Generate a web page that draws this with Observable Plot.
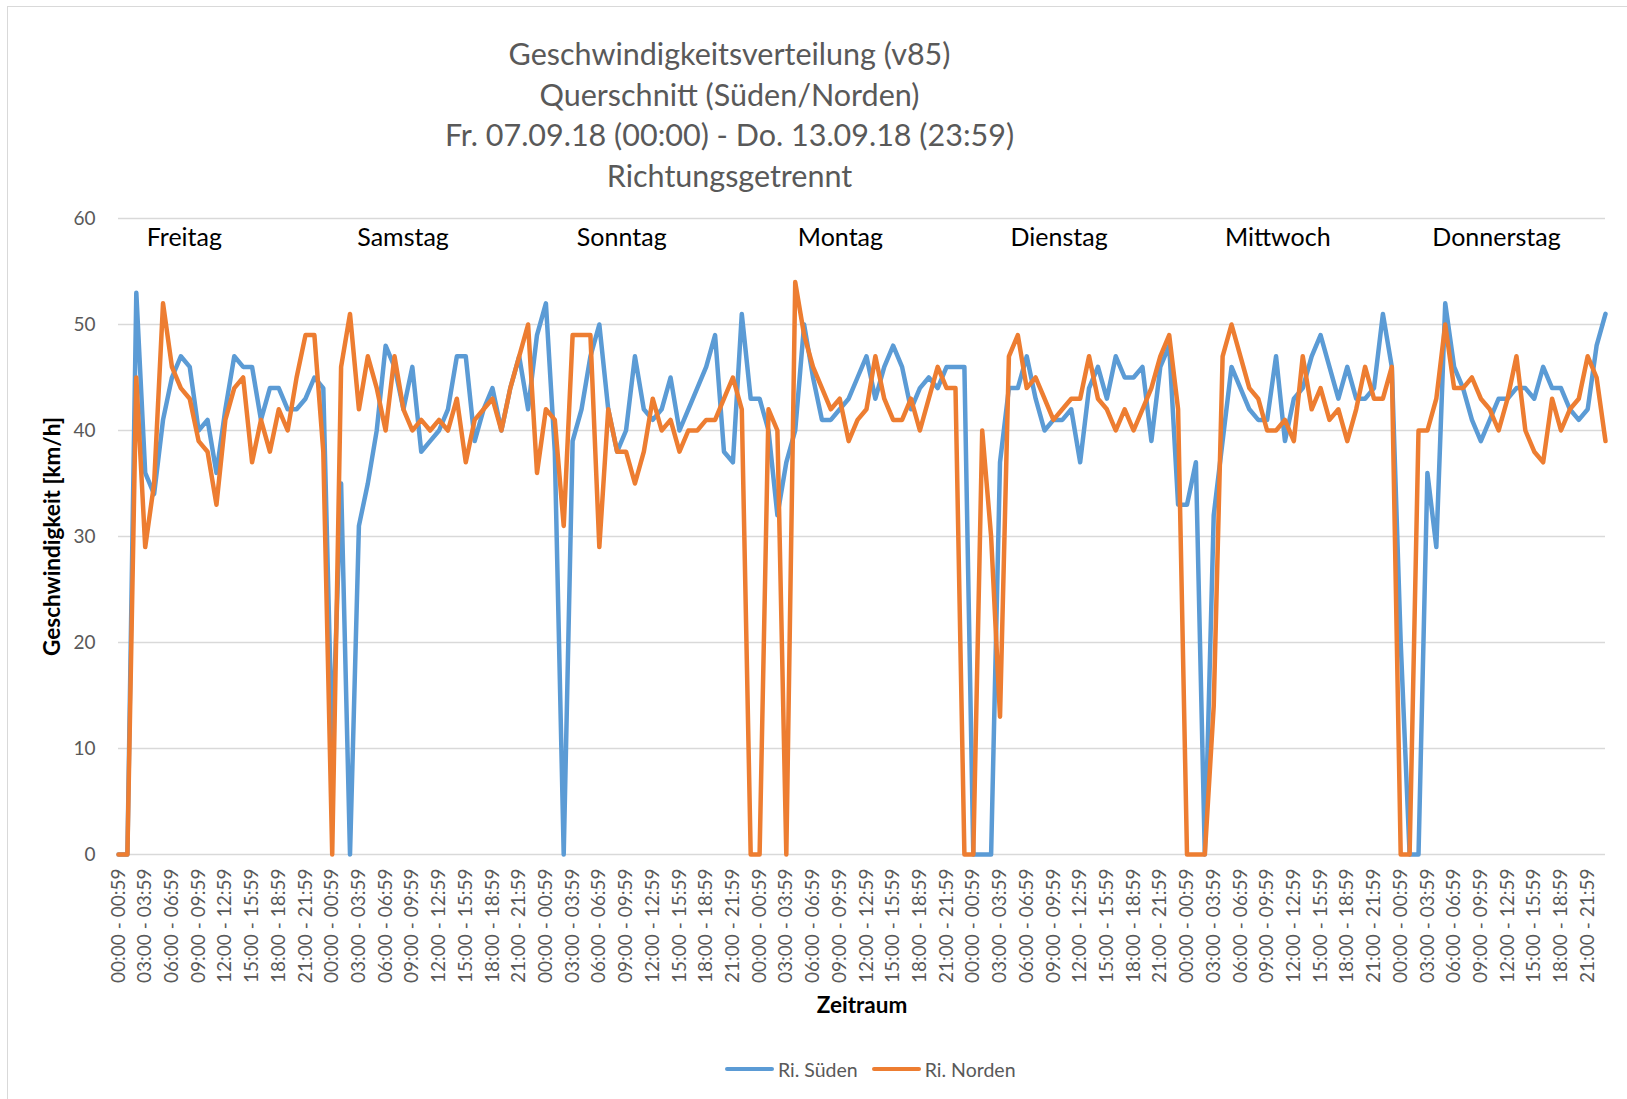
<!DOCTYPE html>
<html>
<head>
<meta charset="utf-8">
<script src="https://cdn.jsdelivr.net/npm/d3@7"></script>
<script src="https://cdn.jsdelivr.net/npm/@observablehq/plot@0.6"></script>
<style>
  html, body { margin: 0; padding: 0; background: #fff; }
  #wrap { position: relative; width: 1627px; height: 1099px; overflow: hidden; font-family: Lato, "Open Sans", sans-serif; }
  #border { position: absolute; left: 7px; top: 6px; right: -2px; bottom: -2px; border-top: 1.5px solid #d9d9d9; border-left: 1.5px solid #d9d9d9; }
  #title { position: absolute; left: 0; top: 33px; width: 1459px; text-align: center; color: #595959; font-size: 30.5px; line-height: 40.7px; }
  #chart { position: absolute; left: 0; top: 200px; }
  #legend { position: absolute; left: 725px; top: 1056px; display: flex; align-items: center; font-size: 19.5px; color: #595959; height: 26px; }
  .sw { width: 49px; height: 4.5px; border-radius: 2px; margin-right: 4px; }
</style>
</head>
<body>
<div id="wrap">
  <div id="border"></div>
  <div id="title"></div>
  <div id="chart"></div>
  <div id="legend"></div>
</div>
<script>
// ---- data ----
const titleLines = [
  "Geschwindigkeitsverteilung (v85)",
  "Querschnitt (Süden/Norden)",
  "Fr. 07.09.18 (00:00) - Do. 13.09.18 (23:59)",
  "Richtungsgetrennt"
];
const days = ["Freitag", "Samstag", "Sonntag", "Montag", "Dienstag", "Mittwoch", "Donnerstag"];
const hourLabels = ["00:00 - 00:59", "03:00 - 03:59", "06:00 - 06:59", "09:00 - 09:59",
                    "12:00 - 12:59", "15:00 - 15:59", "18:00 - 18:59", "21:00 - 21:59"];
const yTicks = [0, 10, 20, 30, 40, 50, 60];
const seriesNames = ["Ri. Süden", "Ri. Norden"];
const seriesColors = ["#5b9bd5", "#ed7d31"];

const sueden = [
  0,0,53,36,34,41,45,47,46,40,41,36,42,47,46,46,41,44,44,42,42,43,45,44,
  10,35,0,31,35,40,48,46,42,46,38,39,40,42,47,47,39,42,44,40,44,47,42,49,
  52,38,0,39,42,47,50,42,38,40,47,42,41,42,45,40,42,44,46,49,38,37,51,43,
  43,40,32,37,40,50,45,41,41,42,43,45,47,43,46,48,46,42,44,45,44,46,46,46,
  0,0,0,37,44,44,47,43,40,41,41,42,37,44,46,43,47,45,45,46,39,46,48,33,
  33,37,0,32,39,46,44,42,41,41,47,39,43,44,47,49,46,43,46,43,43,44,51,46,
  20,0,0,36,29,52,46,44,41,39,41,43,43,44,44,43,46,44,44,42,41,42,48,51
];
const norden = [
  0,0,45,29,35,52,46,44,43,39,38,33,41,44,45,37,41,38,42,40,45,49,49,38,
  0,46,51,42,47,44,40,47,42,40,41,40,41,40,43,37,41,42,43,40,44,47,50,36,
  42,41,31,49,49,49,29,42,38,38,35,38,43,40,41,38,40,40,41,41,43,45,42,0,
  0,42,40,0,54,49,46,44,42,43,39,41,42,47,43,41,41,43,40,43,46,44,44,0,
  0,40,30,13,47,49,44,45,43,41,42,43,43,47,43,42,40,42,40,42,44,47,49,42,
  0,0,0,14,47,50,47,44,43,40,40,41,39,47,42,44,41,42,39,42,46,43,43,46,
  0,0,40,40,43,50,44,44,45,43,42,40,43,47,40,38,37,43,40,42,43,47,45,39
];

// ---- title ----
document.getElementById("title").innerHTML = titleLines.map(t => `<div>${t}</div>`).join("");

// ---- chart ----
const n = sueden.length;
const tickIdx = d3.range(0, n, 3);
const chart = Plot.plot({
  width: 1627,
  height: 840,
  marginTop: 18,
  marginBottom: 186,
  marginLeft: 118,
  marginRight: 22,
  style: { fontFamily: "Lato, 'Open Sans', sans-serif", color: "#595959", background: "transparent", overflow: "visible" },
  x: { domain: [0, n - 1] },
  y: { domain: [0, 60] },
  marks: [
    Plot.ruleY(yTicks, { stroke: "#d9d9d9", strokeWidth: 1.5 }),
    Plot.axisY(yTicks, { tickSize: 0, tickPadding: 23, fontSize: 19, label: null }),
    Plot.axisX(tickIdx, {
      tickSize: 0, tickPadding: 14, tickRotate: -90, fontSize: 19, label: null,
      tickFormat: i => hourLabels[(i / 3) % hourLabels.length]
    }),
    Plot.lineY(sueden, { x: (d, i) => i, y: d => d, stroke: seriesColors[0], strokeWidth: 4.5, strokeLinejoin: "round", strokeLinecap: "round" }),
    Plot.lineY(norden, { x: (d, i) => i, y: d => d, stroke: seriesColors[1], strokeWidth: 4.5, strokeLinejoin: "round", strokeLinecap: "round" }),
    Plot.text(days, { x: (d, i) => i * 24.56 + 7.4, y: 58.2, text: d => d, fontSize: 25, fill: "#000" }),
    Plot.text(["Geschwindigkeit [km/h]"], { frameAnchor: "left", textAnchor: "middle", lineAnchor: "middle", dx: -66, rotate: -90, fontSize: 22.5, fontWeight: "bold", fill: "#000" }),
    Plot.text(["Zeitraum"], { frameAnchor: "bottom", textAnchor: "middle", lineAnchor: "middle", dy: 151, fontSize: 22.5, fontWeight: "bold", fill: "#000" })
  ]
});
document.getElementById("chart").appendChild(chart);

// ---- legend ----
document.getElementById("legend").innerHTML = seriesNames.map((s, k) =>
  `<div style="display:flex;align-items:center;margin-right:${k === 0 ? 14 : 0}px"><div class="sw" style="background:${seriesColors[k]}"></div><span>${s}</span></div>`
).join("");
</script>
</body>
</html>
